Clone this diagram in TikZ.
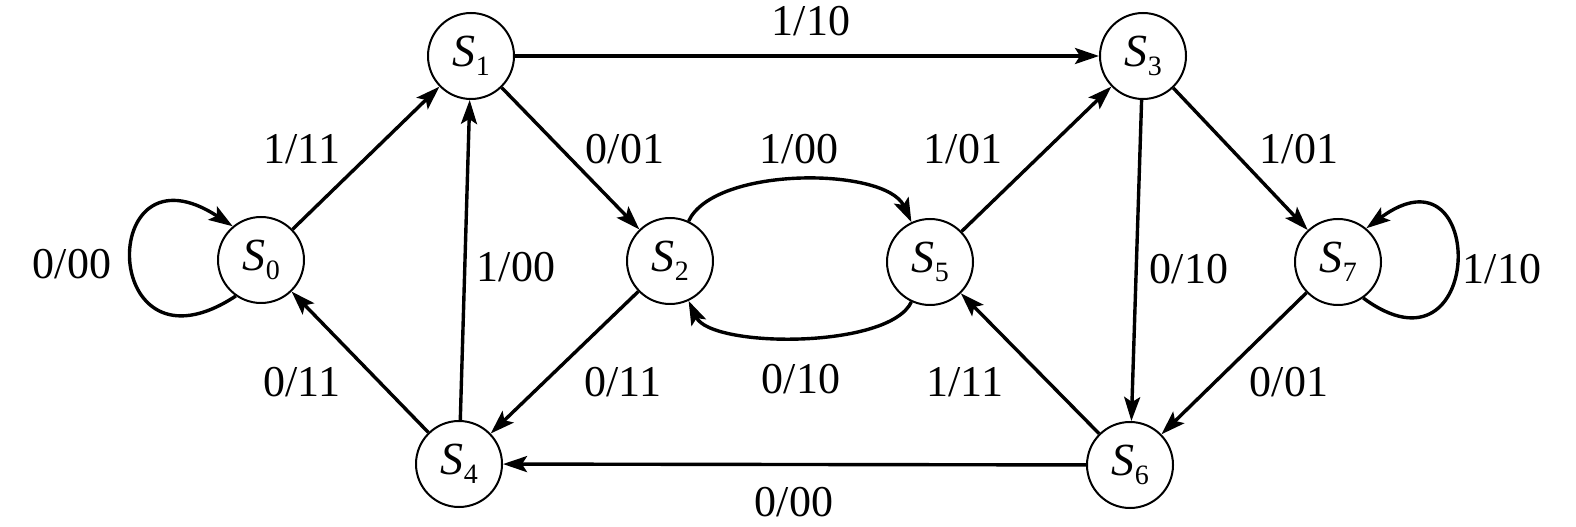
\documentclass[tikz,border=0pt]{standalone}
\usepackage{fontspec}
\setmainfont{Liberation Serif}
\newfontfamily\serifont{Liberation Serif}
\usetikzlibrary{arrows.meta}
\newcommand{\stname}[1]{\textit{S}\kern0.3bp\raisebox{-0.45ex}{\fontsize{14bp}{15bp}\selectfont #1}}
\begin{document}
\begin{tikzpicture}[x=0.5bp, y=-0.5bp,
  state/.style={circle, draw, line width=1bp, minimum size=43bp, inner sep=0pt, font=\serifont\fontsize{23bp}{26bp}\selectfont},
  lbl/.style={font=\serifont\fontsize{22bp}{25bp}\selectfont, inner sep=0pt},
  arr/.style={line width=1.7bp, -{Stealth[length=12bp, width=8bp, inset=2.5bp]}}]
\useasboundingbox[fill=white] (0,0) rectangle (1576,527);
% states
\node[state] (S0) at (261,260) {\stname{0}};
\node[state] (S1) at (471,56)  {\stname{1}};
\node[state] (S2) at (670,261) {\stname{2}};
\node[state] (S5) at (930,262) {\stname{5}};
\node[state] (S3) at (1143,56) {\stname{3}};
\node[state] (S7) at (1338,262) {\stname{7}};
\node[state] (S4) at (459,464) {\stname{4}};
\node[state] (S6) at (1130,465) {\stname{6}};
% transitions
\draw[arr] (S0.235) .. controls +(-137,90) and +(-137,-90) .. (S0.130);
\draw[arr] (S7.305) .. controls +(122,90) and +(122,-90) .. (S7.50);
\draw[arr] (S0) -- (S1);
\draw[arr] (S1) -- (S3);
\draw[arr] (S1) -- (S2);
\draw[arr] (S4) -- (S1);
\draw[arr] (S4) -- (S0);
\draw[arr] (S2) -- (S4);
\draw[arr] (S2) to[out=65, in=115, looseness=0.7] (S5);
\draw[arr] (S5) to[out=245, in=295, looseness=0.6] (S2);
\draw[arr] (S5) -- (S3);
\draw[arr] (S3) -- (S7);
\draw[arr] (S3) -- (S6);
\draw[arr] (S7) -- (S6);
\draw[arr] (S6) -- (S5);
\draw[arr] (S6) -- (S4);
% labels
\node[lbl] (L00a) at (72,264)   {0/00};
\node[lbl] (L11a) at (302,149)  {1/11};
\node[lbl] (L10a) at (811,21)   {1/10};
\node[lbl] (L01a) at (625,149)  {0/01};
\node[lbl] (L00b) at (799,149)  {1/00};
\node[lbl] (L01b) at (963,149)  {1/01};
\node[lbl] (L01c) at (1299,149) {1/01};
\node[lbl] (L00c) at (516,267)  {1/00};
\node[lbl] (L10b) at (1189,269) {0/10};
\node[lbl] (L10c) at (1502,269) {1/10};
\node[lbl] (L11b) at (302,382)  {0/11};
\node[lbl] (L11c) at (623,382)  {0/11};
\node[lbl] (L10d) at (801,379)  {0/10};
\node[lbl] (L11d) at (965,382)  {1/11};
\node[lbl] (L01d) at (1289,382) {0/01};
\node[lbl] (L00d) at (794,502)  {0/00};
\end{tikzpicture}
\end{document}
